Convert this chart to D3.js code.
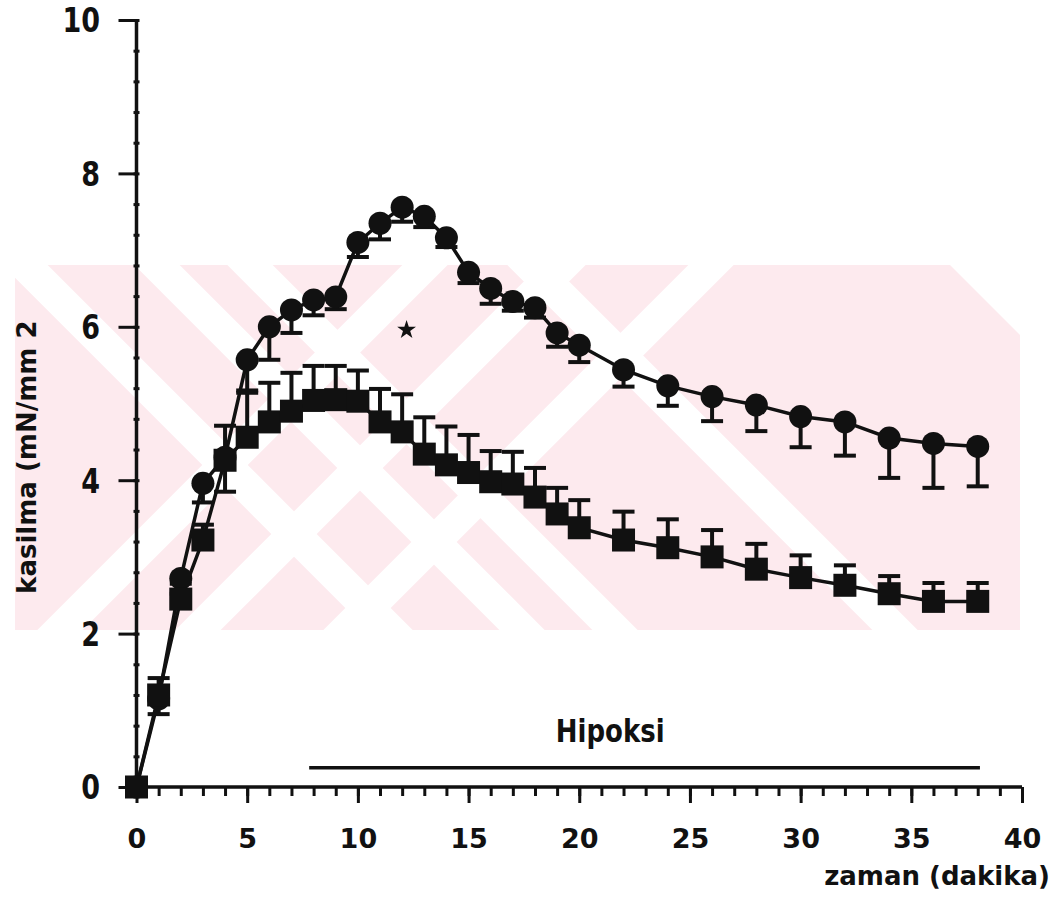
<!DOCTYPE html>
<html>
<head>
<meta charset="utf-8">
<script src="https://cdn.jsdelivr.net/npm/d3@7"></script>
<style>
  html, body { margin: 0; padding: 0; background: #fff; }
  svg { display: block; }
  text { font-family: "DejaVu Sans", sans-serif; font-weight: bold; fill: #111; }
</style>
</head>
<body>
<svg id="chart" width="1062" height="910"></svg>
<script>
// ---------------- data ----------------
const times = [0,1,2,3,4,5,6,7,8,9,10,11,12,13,14,15,16,17,18,19,20,22,24,26,28,30,32,34,36,38];
const circleMean = [0,1.15,2.72,3.96,4.3,5.57,6.0,6.22,6.35,6.39,7.1,7.35,7.56,7.44,7.16,6.71,6.5,6.33,6.25,5.92,5.76,5.44,5.23,5.09,4.98,4.83,4.76,4.55,4.48,4.44];
const circleErr  = [0,0.2,0.2,0.25,0.45,0.4,0.43,0.3,0.2,0.16,0.19,0.21,0.19,0.14,0.12,0.14,0.2,0.12,0.13,0.18,0.22,0.22,0.26,0.32,0.34,0.4,0.44,0.52,0.58,0.52];
const squareMean = [0,1.2,2.45,3.22,4.26,4.56,4.76,4.9,5.04,5.05,5.03,4.76,4.63,4.34,4.2,4.1,3.98,3.95,3.78,3.56,3.38,3.22,3.12,3.0,2.84,2.73,2.63,2.52,2.42,2.42];
const squareErr  = [0,0.22,0.2,0.2,0.45,0.58,0.51,0.5,0.45,0.44,0.4,0.43,0.49,0.48,0.5,0.49,0.4,0.42,0.38,0.34,0.36,0.37,0.37,0.35,0.33,0.29,0.26,0.23,0.24,0.24];
const xTickLabels = [0,5,10,15,20,25,30,35,40];
const yTickLabels = [0,2,4,6,8,10];
const hypoxia = {start: 7.8, end: 38.1, level: 0.25, label: "Hipoksi", labelAt: 21.4, labelLevel: 0.59};
const star = {t: 12.2, v: 5.96};
const xTitle = "zaman (dakika)";
const yTitle = "kasilma (mN/mm 2";

// ---------------- layout ----------------
const svg = d3.select("#chart");
const ink = "#111";
const x = d3.scaleLinear().domain([0, 40]).range([136.5, 1022]);
const y = d3.scaleLinear().domain([0, 10]).range([787, 20]);

// ---- watermark (decorative background) ----
const wm = svg.append("g");
const clip = svg.append("clipPath").attr("id", "wmclip");
clip.append("polygon").attr("points", "15,265 950,265 1020,335 1020,630 15,630");
const wmg = wm.append("g").attr("clip-path", "url(#wmclip)");
wmg.append("rect").attr("x", 15).attr("y", 265).attr("width", 1005).attr("height", 365).attr("fill", "#fdeaee");
const downRight = [108, 240, 15, -265];
const upRight = [690, 828, 976];
downRight.forEach(c => wmg.append("line").attr("x1", -400).attr("y1", -400 + c).attr("x2", 1400).attr("y2", 1400 + c)
  .attr("stroke", "#fff").attr("stroke-width", 32));
upRight.forEach(c => wmg.append("line").attr("x1", c - 1000).attr("y1", 1000).attr("x2", c + 0).attr("y2", 0)
  .attr("stroke", "#fff").attr("stroke-width", 32));

// ---- axes ----
const axisG = svg.append("g");
axisG.append("g").attr("transform", `translate(0,${y(0)})`)
  .call(d3.axisBottom(x).tickValues(d3.range(0, 41, 1)).tickSize(9).tickFormat(""))
  .call(g => g.select(".domain").remove());
const xa = axisG.append("g").attr("transform", `translate(0,${y(0)})`)
  .call(d3.axisBottom(x).tickValues(xTickLabels).tickSize(16).tickPadding(26).tickFormat(d3.format("d")));
xa.select(".domain").remove();
xa.selectAll("text").attr("font-size", 27).attr("font-family", "DejaVu Sans").attr("font-weight", "bold").attr("fill", ink);
axisG.append("g").attr("transform", `translate(${x(0) + 3},0)`)
  .call(d3.axisLeft(y).tickValues(d3.range(0, 10.01, 0.4)).tickSize(6).tickFormat(""))
  .call(g => g.select(".domain").remove());
const ya = axisG.append("g").attr("transform", `translate(${x(0)},0)`)
  .call(d3.axisLeft(y).tickValues(yTickLabels).tickSize(18).tickFormat(""));
ya.select(".domain").remove();
axisG.selectAll(".tick line").attr("stroke", ink).attr("stroke-width", 3);
axisG.append("line").attr("x1", x(0)).attr("x2", x(40)).attr("y1", y(0)).attr("y2", y(0)).attr("stroke", ink).attr("stroke-width", 3.5);
axisG.append("line").attr("x1", x(0)).attr("x2", x(0)).attr("y1", y(0)).attr("y2", y(10)).attr("stroke", ink).attr("stroke-width", 3.5);
svg.append("g").selectAll("text").data(yTickLabels).join("text")
  .attr("transform", d => `translate(100,${y(d)}) scale(1,1.27)`)
  .attr("y", 9.8).attr("text-anchor", "end").attr("font-size", 27).text(d => d);

// titles
svg.append("text").attr("x", 1050).attr("y", 885).attr("text-anchor", "end").attr("font-size", 26).text(xTitle);
svg.append("text").attr("transform", `translate(36,${y(4.3)}) rotate(-90)`).attr("text-anchor", "middle")
  .attr("font-size", 26).text(yTitle);

// hypoxia bar
svg.append("line").attr("x1", x(hypoxia.start)).attr("x2", x(hypoxia.end))
  .attr("y1", y(hypoxia.level)).attr("y2", y(hypoxia.level)).attr("stroke", ink).attr("stroke-width", 3.5);
svg.append("text").attr("transform", `translate(${x(hypoxia.labelAt)},${y(hypoxia.labelLevel)}) scale(1,1.2)`)
  .attr("text-anchor", "middle").attr("font-size", 26).text(hypoxia.label);

// ---- series ----
const circ = times.map((t, i) => ({t, v: circleMean[i], e: circleErr[i]}));
const sq = times.map((t, i) => ({t, v: squareMean[i], e: squareErr[i]}));
const line = d3.line().x(d => x(d.t)).y(d => y(d.v));
const capW = 22;

function errorBars(data, dir) {
  const g = svg.append("g").attr("stroke", ink);
  g.selectAll("line.bar").data(data.filter(d => d.e > 0)).join("line").attr("class", "bar")
    .attr("x1", d => x(d.t)).attr("x2", d => x(d.t))
    .attr("y1", d => y(d.v)).attr("y2", d => y(d.v + dir * d.e)).attr("stroke-width", 4);
  g.selectAll("line.cap").data(data.filter(d => d.e > 0)).join("line").attr("class", "cap")
    .attr("x1", d => x(d.t) - capW / 2).attr("x2", d => x(d.t) + capW / 2)
    .attr("y1", d => y(d.v + dir * d.e)).attr("y2", d => y(d.v + dir * d.e)).attr("stroke-width", 4);
}

svg.append("path").datum(circ).attr("d", line).attr("fill", "none").attr("stroke", ink).attr("stroke-width", 3.5);
svg.append("path").datum(sq).attr("d", line).attr("fill", "none").attr("stroke", ink).attr("stroke-width", 3.5);
errorBars(circ, -1);
errorBars(sq, 1);

svg.append("g").selectAll("circle").data(circ).join("circle")
  .attr("cx", d => x(d.t)).attr("cy", d => y(d.v)).attr("r", 11.5).attr("fill", ink);
const side = 23;
svg.append("g").selectAll("rect").data(sq).join("rect")
  .attr("x", d => x(d.t) - side / 2).attr("y", d => y(d.v) - side / 2)
  .attr("width", side).attr("height", side).attr("fill", ink);

// significance star
svg.append("path").attr("transform", `translate(${x(star.t)},${y(star.v)})`)
  .attr("d", d3.symbol(d3.symbolStar, 110)()).attr("fill", ink);
</script>
</body>
</html>
